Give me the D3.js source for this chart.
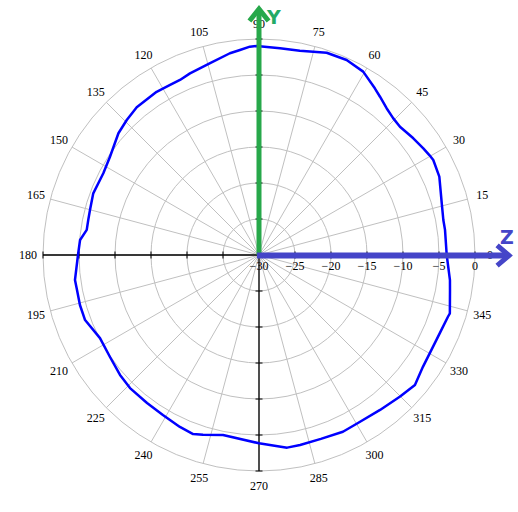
<!DOCTYPE html>
<html><head><meta charset="utf-8">
<script src="https://cdn.jsdelivr.net/npm/d3@7"></script>
<style>body{margin:0;background:#fff}svg{display:block}</style>
</head><body>
<svg id="c" width="518" height="512"></svg>
<script>
const angles = [0,7.7,10.75,15.8,23.5,28.6,30.4,33,37.1,42.3,45.5,49,52.6,55.2,60.4,65.8,71.5,78.7,84.2,90.6,92.5,95.3,98.2,104.3,110.8,114.3,117.6,122.1,129.6,134.4,139.1,146.6,152.3,159.6,165.1,168.4,171.7,175.2,180,187.7,190.4,195.6,200.5,207.6,214.4,220.8,225.9,232.9,239,245.3,249.8,252.7,258.7,270,278.3,282.2,288.6,295.4,300.5,308,314.9,320.2,325.7,330.2,336.7,341.9,343,349.6,352.5];
const values = [-3.93,-3.93,-3.94,-3.62,-2.69,-2.43,-2.57,-2.79,-3.13,-3.53,-3.39,-2.99,-2.33,-1.81,-0.71,-0.31,-0.38,-1.06,-1.14,-0.97,-1.04,-1.40,-1.69,-2.51,-3.01,-3.33,-3.35,-3.24,-3.36,-3.75,-4.17,-5.21,-5.58,-5.44,-5.71,-5.79,-5.82,-5.06,-4.86,-4.21,-4.26,-4.18,-4.21,-5.08,-4.92,-4.50,-4.26,-4.22,-4.08,-3.71,-3.50,-3.86,-4.50,-3.85,-2.96,-3.00,-3.05,-2.83,-2.92,-2.69,-2.24,-1.81,-2.44,-2.64,-2.64,-2.39,-2.28,-3.03,-3.25];
const radialTicks = [-30,-25,-20,-15,-10,-5,0];
const angleTicks = d3.range(0,360,15);

const cx = 259, cy = 255, R = 216;
const svg = d3.select("#c");
const g = svg.append("g").attr("transform",`translate(${cx},${cy})`);
const r = d3.scaleLinear().domain([-30,0]).range([0,R]);
const rad = d => d*Math.PI/180;
const serif = "'Liberation Serif','Times New Roman',serif";

// grid circles
g.selectAll("circle.grid").data(radialTicks.slice(1)).join("circle")
  .attr("r",d=>r(d)).attr("fill","none").attr("stroke","#c0c0c0").attr("stroke-width",1);
// spokes
g.selectAll("line.spoke").data(angleTicks).join("line")
  .attr("x1",0).attr("y1",0)
  .attr("x2",d=>R*Math.cos(rad(d))).attr("y2",d=>-R*Math.sin(rad(d)))
  .attr("stroke","#c0c0c0").attr("stroke-width",1);
// axes
g.append("line").attr("x1",-R).attr("x2",R).attr("y1",0).attr("y2",0).attr("stroke","#000").attr("stroke-width",1.3);
g.append("line").attr("y1",-R).attr("y2",R).attr("x1",0).attr("x2",0).attr("stroke","#000").attr("stroke-width",1.3);
const tickR = radialTicks.slice(1).map(d=>r(d));
tickR.forEach(t=>{
  [[t,0],[-t,0]].forEach(([x,y])=>g.append("line").attr("x1",x).attr("x2",x).attr("y1",-3.5).attr("y2",3.5).attr("stroke","#000"));
  [[0,t],[0,-t]].forEach(([x,y])=>g.append("line").attr("y1",y).attr("y2",y).attr("x1",-3.5).attr("x2",3.5).attr("stroke","#000"));
});
// radial labels
g.selectAll("text.rl").data(radialTicks).join("text")
  .attr("x",d=>r(d)).attr("y",15).attr("text-anchor","middle")
  .attr("font-family",serif).attr("font-size",12).attr("fill","#000")
  .text(d=>d<0?"\u2212"+Math.abs(d):d);
// angle labels
g.selectAll("text.al").data(angleTicks).join("text")
  .attr("x",d=>231*Math.cos(rad(d))).attr("y",d=>-231*Math.sin(rad(d))+4)
  .attr("text-anchor","middle")
  .attr("font-family",serif).attr("font-size",12).attr("fill","#000")
  .text(d=>d);
// curve
const pts = angles.map((a,i)=>[a,values[i]]);
const line = d3.lineRadial().angle(d=>Math.PI/2 - rad(d[0])).radius(d=>r(d[1])).curve(d3.curveLinearClosed);
g.append("path").attr("d",line(pts)).attr("fill","none").attr("stroke","#0000ff").attr("stroke-width",2.5).attr("stroke-linejoin","round");
// arrows
const zc = "#4545c8", yc = "#27a84a";
svg.append("line").attr("x1",cx).attr("y1",cy).attr("x2",cx).attr("y2",9).attr("stroke",yc).attr("stroke-width",5);
svg.append("polyline").attr("points",`${cx-8},${19} ${cx},${9} ${cx+8},${19}`).attr("fill","none").attr("stroke",yc).attr("stroke-width",5).attr("stroke-linecap","square");
svg.append("line").attr("x1",cx-2).attr("y1",cy+0.5).attr("x2",509).attr("y2",cy+0.5).attr("stroke",zc).attr("stroke-width",6);
svg.append("polyline").attr("points",`499,${cy-8} 509,${cy+0.5} 499,${cy+9}`).attr("fill","none").attr("stroke",zc).attr("stroke-width",5).attr("stroke-linecap","square");
svg.append("text").attr("x",267).attr("y",24).attr("font-family","'DejaVu Sans',sans-serif").attr("font-weight","bold").attr("font-size",19).attr("fill","#22aa66").text("Y");
svg.append("text").attr("x",500).attr("y",244).attr("font-family","'DejaVu Sans',sans-serif").attr("font-weight","bold").attr("font-size",19).attr("fill",zc).text("Z");
</script>
</body></html>
